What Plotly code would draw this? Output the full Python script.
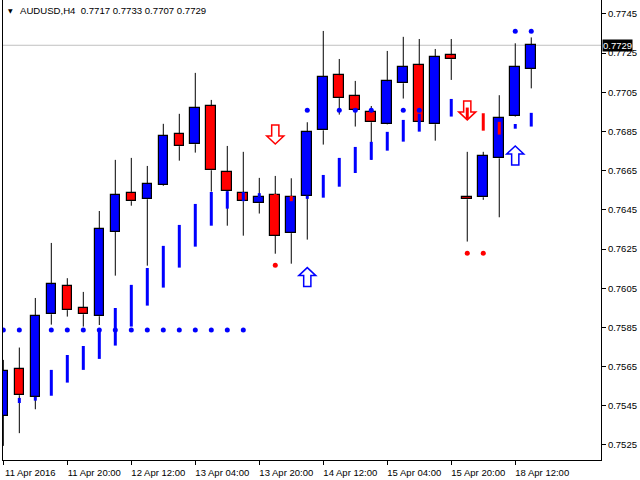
import plotly.graph_objects as go

symbol_name = "AUDUSD,H4"
tick_bars = [0, 4, 8, 12, 16, 20, 24, 28, 32]
tick_labels = ["11 Apr 2016", "11 Apr 20:00", "12 Apr 12:00", "13 Apr 04:00", "13 Apr 20:00",
               "14 Apr 12:00", "15 Apr 04:00", "15 Apr 20:00", "18 Apr 12:00"]
price_ticks = [0.7525, 0.7545, 0.7565, 0.7585, 0.7605, 0.7625, 0.7645, 0.7665,
               0.7685, 0.7705, 0.7725, 0.7745]

opens = [0.75400, 0.75636, 0.75493, 0.75917, 0.76060, 0.75948, 0.75907, 0.76339, 0.76535, 0.76504,
         0.76576, 0.76836, 0.76785, 0.76979, 0.76642, 0.76535, 0.76484, 0.76525, 0.76331, 0.76522,
         0.76856, 0.77137, 0.77030, 0.76948, 0.76887, 0.77096, 0.77188, 0.76887, 0.77239, 0.76514,
         0.76514, 0.76713, 0.76928, 0.7717]
highs = [0.75684, 0.75747, 0.76000, 0.76281, 0.76101, 0.76031, 0.76444, 0.76705, 0.76715, 0.76674,
         0.76889, 0.76940, 0.77149, 0.77011, 0.76776, 0.76746, 0.76613, 0.76623, 0.76611, 0.76897,
         0.77363, 0.77220, 0.77108, 0.76980, 0.77261, 0.77333, 0.77322, 0.77271, 0.77322, 0.76746,
         0.76746, 0.77035, 0.77300, 0.7733]
lows = [0.75245, 0.75310, 0.75432, 0.75864, 0.75905, 0.75854, 0.75862, 0.76114, 0.76471, 0.76165,
        0.76572, 0.76701, 0.76742, 0.76543, 0.76369, 0.76318, 0.76431, 0.76226, 0.76175, 0.76298,
        0.76783, 0.76936, 0.76875, 0.76705, 0.76885, 0.77018, 0.76895, 0.76803, 0.77113, 0.76288,
        0.76501, 0.76412, 0.76925, 0.7707]
closes = [0.75628, 0.75504, 0.75907, 0.76070, 0.75938, 0.75917, 0.76351, 0.76525, 0.76494, 0.76581,
          0.76826, 0.76775, 0.76969, 0.76652, 0.76545, 0.76494, 0.76514, 0.76318, 0.76514, 0.76846,
          0.77127, 0.77020, 0.76958, 0.76897, 0.77106, 0.77178, 0.76897, 0.77229, 0.77219, 0.76504,
          0.76724, 0.76918, 0.77178, 0.7729]

blue_bar_top = [None, 0.75490, 0.75495, 0.75633, 0.75709, 0.75755, 0.75832, 0.75949, 0.76067, 0.76153,
                0.76266, 0.76373, 0.76480, 0.76541, 0.76545, 0.76541, 0.76535, None, None, 0.76522,
                0.76628, 0.76715, 0.76771, 0.76797, 0.76848, 0.76909, 0.76940, None, 0.77016, None,
                None, None, 0.76888, 0.76945]
blue_bar_bottom = [None, 0.75464, 0.75476, 0.75501, 0.75568, 0.75633, 0.75689, 0.75757, 0.75854, 0.75961,
                   0.76053, 0.76155, 0.76262, 0.76369, 0.76456, 0.76494, 0.76514, None, None, 0.76506,
                   0.76512, 0.76568, 0.76638, 0.76705, 0.76752, 0.76798, 0.76849, None, 0.76926, None,
                   None, None, 0.76864, 0.76875]
red_bar_top = [None] * 17 + [0.76531, 0.76521] + [None] * 10 + [0.76972, 0.76943, 0.76899, None, None]
red_bar_bottom = [None] * 17 + [0.76518, 0.76494] + [None] * 10 + [0.76914, 0.76854, 0.76834, None, None]

blue_dots = [0.75837] * 16 + [None] * 3 + [0.76958] * 8 + [None] * 5 + [0.77362, 0.77362]
red_dots = [None] * 17 + [0.76167] + [None] * 11 + [0.76228, 0.76228, None, None, None]

arrow_down_bar = [17, 29]
arrow_down_tip = [0.76786, 0.76909]
arrow_up_bar = [19, 32]
arrow_up_tip = [0.76155, 0.76776]

# ---- layout geometry ----
W, H = 640, 480
ML, MR, MT, MB = 3, 39, 0, 20
PW, PH = W - ML - MR, H - MT - MB
x_range = [-0.02, 37.36]
y_range = [0.75173, 0.77521]
px_x = (x_range[1] - x_range[0]) / PW
px_y = (y_range[1] - y_range[0]) / PH

BULL, BEAR = "#0000FF", "#FF0000"
FONT = "Liberation Sans, Arial, sans-serif"
n = len(opens)
xs = list(range(n))

fig = go.Figure()

# wicks (split so they don't cross the bodies)
wx, wy = [], []
for i in xs:
    top = max(opens[i], closes[i])
    bot = min(opens[i], closes[i])
    wx += [i, i, None, i, i, None]
    wy += [highs[i], top, None, bot, lows[i], None]
fig.add_trace(go.Scatter(x=wx, y=wy, mode="lines", line=dict(color="black", width=1),
                         hoverinfo="skip", showlegend=False))

# bodies
fig.add_trace(go.Bar(
    x=xs,
    base=[min(o, c) for o, c in zip(opens, closes)],
    y=[abs(c - o) for o, c in zip(opens, closes)],
    width=0.6,
    marker=dict(color=[BULL if c >= o else BEAR for o, c in zip(opens, closes)],
                line=dict(color="black", width=1.2)),
    hoverinfo="skip", showlegend=False))


def seg_trace(tops, bots, color):
    sx, sy = [], []
    for i in xs:
        if tops[i] is not None:
            sx += [i, i, None]
            sy += [tops[i], bots[i], None]
    return go.Scatter(x=sx, y=sy, mode="lines", line=dict(color=color, width=3),
                      hoverinfo="skip", showlegend=False)


fig.add_trace(seg_trace(blue_bar_top, blue_bar_bottom, BULL))
fig.add_trace(seg_trace(red_bar_top, red_bar_bottom, BEAR))

fig.add_trace(go.Scatter(x=xs, y=blue_dots, mode="markers",
                         marker=dict(color=BULL, size=5), hoverinfo="skip", showlegend=False))
fig.add_trace(go.Scatter(x=xs, y=red_dots, mode="markers",
                         marker=dict(color=BEAR, size=5), hoverinfo="skip", showlegend=False))

# hollow arrows (geometry in pixels, converted to data units)
shaft_hw, head_hw, head_h, total_h = 3.6, 8.5, 8.0, 19.0


def arrow_path(bx, tip, direction):
    s = -1 if direction == "down" else 1
    pts = [(-shaft_hw, total_h), (shaft_hw, total_h), (shaft_hw, head_h), (head_hw, head_h),
           (0, 0), (-head_hw, head_h), (-shaft_hw, head_h)]
    coords = [(bx + dx * px_x, tip - s * dy * px_y) for dx, dy in pts]
    return "M " + " L ".join(f"{cx:.5f},{cy:.6f}" for cx, cy in coords) + " Z"


shapes = [dict(type="line", xref="paper", x0=0, x1=1, yref="y", y0=closes[-1], y1=closes[-1],
               line=dict(color="#C0C0C0", width=1), layer="below")]
for b, t in zip(arrow_down_bar, arrow_down_tip):
    shapes.append(dict(type="path", xref="x", yref="y", path=arrow_path(b, t, "down"),
                       line=dict(color=BEAR, width=1.5), fillcolor="white", layer="below"))
for b, t in zip(arrow_up_bar, arrow_up_tip):
    shapes.append(dict(type="path", xref="x", yref="y", path=arrow_path(b, t, "up"),
                       line=dict(color=BULL, width=1.5), fillcolor="white", layer="below"))

header = (f"{symbol_name}\u00a0\u00a0{opens[-1]:.4f} {highs[-1]:.4f} "
          f"{lows[-1]:.4f} {closes[-1]:.4f}")
annotations = [
    dict(xref="paper", yref="paper", x=(6.2 - ML) / PW, y=1 - 10.5 / PH, xanchor="left",
         yanchor="middle", text="▼", showarrow=False,
         font=dict(family="DejaVu Sans", size=6, color="black")),
    dict(xref="paper", yref="paper", x=(17.5 - ML) / PW, y=1 - 10.7 / PH, xanchor="left",
         yanchor="middle", text=header, showarrow=False,
         font=dict(family=FONT, size=9.6, color="black")),
    dict(xref="paper", yref="y", x=1, y=closes[-1], xanchor="left", yanchor="middle",
         xshift=1, text=f"{closes[-1]:.4f}", showarrow=False, bgcolor="black",
         borderpad=0, font=dict(family=FONT, size=9.5, color="white")),
]

fig.update_layout(
    width=W, height=H,
    margin=dict(l=ML, r=MR, t=MT, b=MB, pad=0),
    paper_bgcolor="white", plot_bgcolor="white",
    showlegend=False, bargap=0,
    shapes=shapes, annotations=annotations,
    xaxis=dict(range=x_range, showgrid=False, zeroline=False, showline=True, linecolor="black",
               linewidth=1, tickmode="array", tickvals=tick_bars, ticktext=tick_labels,
               ticks="outside", ticklen=4, tickcolor="black", ticklabelshift=27,
               tickfont=dict(family=FONT, size=9.5, color="black")),
    yaxis=dict(range=y_range, side="right", showgrid=False, zeroline=False, showline=True,
               mirror=True, linecolor="black", linewidth=1, tickmode="array",
               tickvals=price_ticks, ticktext=[f"{v:.4f}" for v in price_ticks],
               ticks="outside", ticklen=4, tickcolor="black",
               tickfont=dict(family=FONT, size=9.5, color="black")),
)

fig.write_html("out.html", config={"displayModeBar": False},
               post_script="document.body.style.margin='0px';document.body.style.overflow='hidden';")
